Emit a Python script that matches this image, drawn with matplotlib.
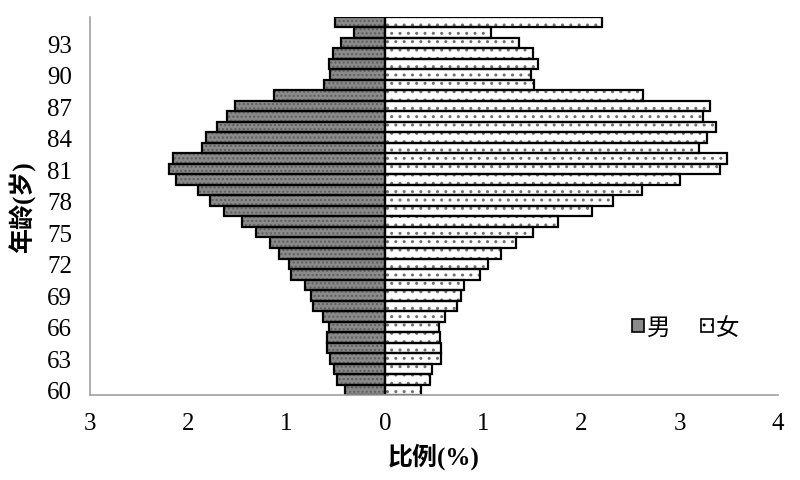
import matplotlib
matplotlib.use("Agg")
import matplotlib.pyplot as plt
from matplotlib.patches import Patch
import numpy as np

ages = list(range(60, 96))
male = [0.41, 0.49, 0.52, 0.56, 0.59, 0.59, 0.57, 0.63, 0.73, 0.75,
        0.81, 0.95, 0.98, 1.08, 1.17, 1.31, 1.45, 1.64, 1.78, 1.90,
        2.12, 2.20, 2.16, 1.86, 1.82, 1.71, 1.61, 1.52, 1.13, 0.62,
        0.56, 0.57, 0.53, 0.45, 0.31, 0.51]
female = [0.37, 0.46, 0.48, 0.57, 0.57, 0.56, 0.55, 0.61, 0.73, 0.77,
          0.81, 0.97, 1.05, 1.18, 1.33, 1.51, 1.76, 2.11, 2.32, 2.62,
          3.00, 3.41, 3.48, 3.20, 3.28, 3.37, 3.24, 3.31, 2.63, 1.52,
          1.49, 1.56, 1.51, 1.36, 1.08, 2.21]
yticks = list(range(60, 94, 3))
xticks = [-3, -2, -1, 0, 1, 2, 3, 4]
xticklabels = ["3", "2", "1", "0", "1", "2", "3", "4"]
series_names = ["男", "女"]

FAM = ["Liberation Serif", "Noto Sans CJK SC"]
plt.rcParams["font.family"] = FAM
plt.rcParams["hatch.linewidth"] = 1.0

fig = plt.figure(figsize=(8, 4.81), dpi=100)
ax = fig.add_axes([0.1125, 0.1767, 0.86, 0.7859])

m = -np.array(male)
f = np.array(female)

# fills with texture
ax.barh(ages, m, height=1.0, color="#8a8a8a", edgecolor="#5e5e5e", hatch="....", linewidth=0)
ax.barh(ages, f, height=1.0, color="white", edgecolor="#707070", hatch="..", linewidth=0)
# outlines
ax.barh(ages, m, height=1.0, fill=False, edgecolor="black", linewidth=1.6)
ax.barh(ages, f, height=1.0, fill=False, edgecolor="black", linewidth=1.6)

ax.set_xlim(-3, 4)
ax.set_ylim(59.5, 95.5)
ax.set_xticks(xticks)
ax.set_xticklabels(xticklabels)
ax.set_yticks(yticks)
ax.tick_params(axis="both", length=0, labelsize=18)
ax.tick_params(axis="x", pad=12)
ax.tick_params(axis="y", pad=13)

for s in ["top", "right"]:
    ax.spines[s].set_visible(False)
for s in ["left", "bottom"]:
    ax.spines[s].set_color("#a0a0a0")
    ax.spines[s].set_linewidth(1.2)

ax.set_xlabel("比例(%)", fontsize=18, fontweight="bold", labelpad=6)
ax.set_ylabel("年龄(岁)", fontsize=18, fontweight="bold", labelpad=8)

handles = [Patch(facecolor="#8a8a8a", edgecolor="black", linewidth=1.2),
           Patch(facecolor="white", edgecolor="black", linewidth=1.2, hatch="..")]
ax.legend(handles, series_names, ncol=2, frameon=False, fontsize=17,
          handlelength=0.5, handleheight=0.5, handletextpad=0.12,
          columnspacing=1.3, loc="center", bbox_to_anchor=(0.866, 0.177))

fig.savefig("out.png", dpi=100)
